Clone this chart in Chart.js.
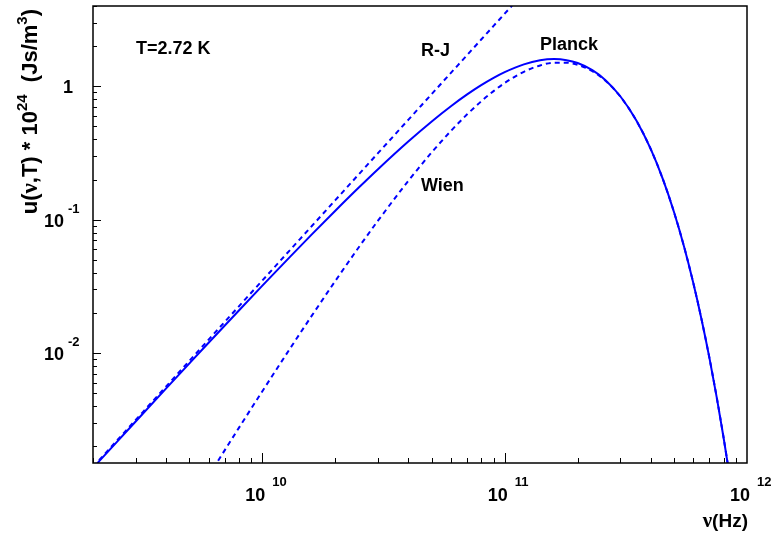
<!DOCTYPE html>
<html>
<head>
<meta charset="utf-8">
<script src="https://cdn.jsdelivr.net/npm/chart.js@4.4.1/dist/chart.umd.min.js"></script>
<style>
  html, body { margin: 0; padding: 0; background: #fff; }
  canvas { display: block; }
</style>
</head>
<body>
<canvas id="planck-chart" width="773" height="536"></canvas>
<script>
// frequency (Hz) and energy density u(nu,T) * 1e24
const freq = [2.0e9, 2.5e9, 3e9, 4e9, 5e9, 6e9, 8e9, 1e10, 1.3e10, 1.6e10, 2e10, 2.5e10, 3e10, 4e10,
  5e10, 6e10, 7e10, 8e10, 9e10, 1e11, 1.2e11, 1.4e11, 1.6e11, 1.8e11, 2e11, 2.3e11, 2.6e11, 3e11,
  3.5e11, 4e11, 4.5e11, 5e11, 5.5e11, 6e11, 6.5e11, 7e11, 7.5e11, 8e11, 8.5e11];

const planck = [0.001377, 0.002142, 0.003070, 0.005409, 0.008377, 0.01196, 0.02088, 0.03203, 0.05267,
  0.07760, 0.1168, 0.1742, 0.2392, 0.3857, 0.5455, 0.7092, 0.8692, 1.020, 1.157, 1.277, 1.461, 1.567,
  1.599, 1.570, 1.494, 1.322, 1.117, 0.8424, 0.5521, 0.3407, 0.2005, 0.1138, 0.06271, 0.03367, 0.01772,
  0.009162, 0.004661, 0.002341, 0.001162];

const rayleighJeans = [0.001401, 0.002190, 0.003153, 0.005604, 0.008758, 0.01262, 0.02243, 0.03503,
  0.05920, 0.08966, 0.1401, 0.2190, 0.3153, 0.5604, 0.8758, 1.261, 1.716, 2.242, 2.838, 3.503, 5.044];

const wien = [null, null, null, null, 0.0007074, 0.001202, 0.002750, 0.005181, 0.01080, 0.01908, 0.03474,
  0.06215, 0.09831, 0.1953, 0.3198, 0.4632, 0.6165, 0.7714, 0.9207, 1.059, 1.285, 1.434, 1.504, 1.505,
  1.450, 1.299, 1.105, 0.8382, 0.5509, 0.3404, 0.2005, 0.1138, 0.06271, 0.03367, 0.01772, 0.009162,
  0.004661, 0.002341, 0.001162];

const xMajor = [1e10, 1e11, 1e12];
const xMajorExp = ['10', '11', '12'];
const yMajor = [0.01, 0.1, 1];
const yMajorExp = ['-2', '-1', ''];

const BLUE = '#0000ff';
const SANS = '"Liberation Sans", Arial, Helvetica, sans-serif';
const SERIF = '"Liberation Serif", "DejaVu Serif", serif';

const toPoints = (ys) => ys.map((y, i) => ({ x: freq[i], y: y }));

function richText(ctx, parts, x, y, align) {
  let total = 0;
  parts.forEach((p) => { ctx.font = p.f; p.w = ctx.measureText(p.t).width; total += p.w; });
  let cx = align === 'right' ? x - total : x;
  ctx.textAlign = 'left';
  ctx.textBaseline = 'alphabetic';
  parts.forEach((p) => { ctx.font = p.f; ctx.fillText(p.t, cx, y + (p.dy || 0)); cx += p.w; });
}

const frameAndLabels = {
  id: 'frameAndLabels',
  afterDraw(chart) {
    const ctx = chart.ctx;
    const a = chart.chartArea;
    const xs = chart.scales.x;
    const ys = chart.scales.y;
    ctx.save();
    ctx.strokeStyle = '#000';
    ctx.fillStyle = '#000';
    ctx.lineWidth = 1.5;
    ctx.strokeRect(a.left, a.top, a.right - a.left, a.bottom - a.top);

    // inward tick marks
    ctx.lineWidth = 1;
    ctx.beginPath();
    for (let e = 9; e <= 11; e++) {
      for (let m = 1; m <= 9; m++) {
        const v = m * Math.pow(10, e);
        if (v < xs.min || v > xs.max) continue;
        const px = Math.round(xs.getPixelForValue(v)) + 0.5;
        const len = m === 1 ? 10 : 5;
        ctx.moveTo(px, a.bottom);
        ctx.lineTo(px, a.bottom - len);
      }
    }
    for (let e = -3; e <= 0; e++) {
      for (let m = 1; m <= 9; m++) {
        const v = m * Math.pow(10, e);
        if (v < ys.min || v > ys.max) continue;
        const py = Math.round(ys.getPixelForValue(v)) + 0.5;
        const len = m === 1 ? 8 : 4;
        ctx.moveTo(a.left, py);
        ctx.lineTo(a.left + len, py);
      }
    }
    ctx.stroke();

    const B18 = 'bold 18px ' + SANS;
    const B13 = 'bold 13px ' + SANS;

    // x tick labels 10^n
    xMajor.forEach((v, i) => {
      const px = xs.getPixelForValue(v);
      ctx.font = B18;
      ctx.textAlign = 'right';
      ctx.textBaseline = 'alphabetic';
      ctx.fillText('10', px + 3, 501);
      ctx.font = B13;
      ctx.textAlign = 'left';
      ctx.fillText(xMajorExp[i], px + 10, 486);
    });

    // y tick labels
    yMajor.forEach((v, i) => {
      const py = ys.getPixelForValue(v);
      ctx.textBaseline = 'alphabetic';
      if (yMajorExp[i] === '') {
        ctx.font = B18;
        ctx.textAlign = 'right';
        ctx.fillText('1', 73, py + 7);
      } else {
        ctx.font = B18;
        ctx.textAlign = 'right';
        ctx.fillText('10', 64, py + 7);
        ctx.font = B13;
        ctx.textAlign = 'left';
        ctx.fillText(yMajorExp[i], 68, py - 7);
      }
    });

    // axis titles
    richText(ctx, [
      { t: '\u03bd', f: 'bold 21px ' + SERIF },
      { t: '(Hz)', f: 'bold 19px ' + SANS },
    ], 748, 527, 'right');

    ctx.save();
    ctx.translate(37, 0);
    ctx.rotate(-Math.PI / 2);
    richText(ctx, [
      { t: 'u(', f: 'bold 22px ' + SANS },
      { t: '\u03bd', f: 'bold 23px ' + SERIF },
      { t: ',T) * 10', f: 'bold 22px ' + SANS },
      { t: '24', f: 'bold 15px ' + SANS, dy: -10 },
      { t: '  (Js/m', f: 'bold 22px ' + SANS },
      { t: '3', f: 'bold 15px ' + SANS, dy: -10 },
      { t: ')', f: 'bold 22px ' + SANS },
    ], -9, 0, 'right');
    ctx.restore();

    // annotations
    ctx.font = 'bold 18px ' + SANS;
    ctx.textAlign = 'left';
    ctx.textBaseline = 'middle';
    ctx.fillText('T=2.72 K', 136, 49);
    ctx.fillText('R-J', 421, 51);
    ctx.fillText('Planck', 540, 45);
    ctx.fillText('Wien', 421, 186);
    ctx.restore();
  },
};

new Chart(document.getElementById('planck-chart'), {
  type: 'line',
  data: {
    datasets: [
      {
        label: 'Planck',
        data: toPoints(planck),
        borderColor: BLUE,
        borderWidth: 2,
        pointRadius: 0,
        cubicInterpolationMode: 'monotone',
      },
      {
        label: 'R-J',
        data: toPoints(rayleighJeans),
        borderColor: BLUE,
        borderWidth: 2,
        borderDash: [5, 4],
        pointRadius: 0,
        cubicInterpolationMode: 'monotone',
      },
      {
        label: 'Wien',
        data: toPoints(wien),
        borderColor: BLUE,
        borderWidth: 2,
        borderDash: [5, 4],
        pointRadius: 0,
        cubicInterpolationMode: 'monotone',
      },
    ],
  },
  options: {
    responsive: false,
    animation: false,
    devicePixelRatio: 1,
    layout: { padding: { left: 93, right: 26, top: 6, bottom: 73 } },
    plugins: {
      legend: { display: false },
      tooltip: { enabled: false },
    },
    scales: {
      x: { type: 'logarithmic', min: 2e9, max: 1e12, display: false },
      y: { type: 'logarithmic', min: 1.5e-3, max: 4, display: false },
    },
  },
  plugins: [frameAndLabels],
});
</script>
</body>
</html>
